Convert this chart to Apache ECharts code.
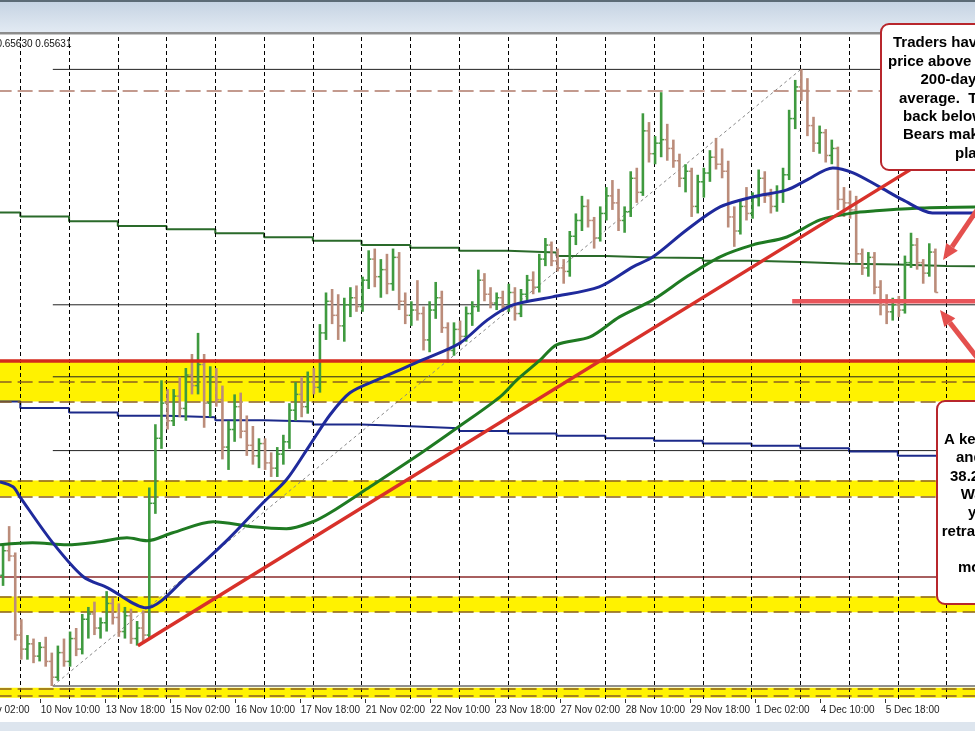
<!DOCTYPE html>
<html><head><meta charset="utf-8">
<script src="https://cdn.jsdelivr.net/npm/echarts@6/dist/echarts.min.js"></script>
<style>html,body{margin:0;padding:0;background:#fff;}#c{width:975px;height:731px;}</style>
</head><body><div id="c"></div>
<script>
// ---------- DATA ----------
// x axis: hour index of the H1 chart (0 = first visible hour)
const tickHours  = [-12,20,52,84,116,148,180,212,244,276,308,340,372,404,436];
const tickLabels = ['9 Nov 02:00','10 Nov 10:00','13 Nov 18:00','15 Nov 02:00','16 Nov 10:00','17 Nov 18:00','21 Nov 02:00','22 Nov 10:00','23 Nov 18:00','27 Nov 02:00','28 Nov 10:00','29 Nov 18:00','1 Dec 02:00','4 Dec 10:00','5 Dec 18:00'];
const daySeparators = [10,34,58,82,106,130,154,178,202,226,250,274,298,322,346,370,394,418,442,466];
const hoursPerBar = 3;
// OHLC price bars [open, high, low, close]
const bars = [
[0.6402,0.6419,0.6396,0.6416],[0.6416,0.6430,0.6410,0.6413],[0.6413,0.6415,0.6365,0.6368],[0.6368,0.6377,0.6354,0.6360],
[0.6360,0.6368,0.6354,0.6363],[0.6363,0.6366,0.6352,0.6356],[0.6356,0.6364,0.6353,0.6361],[0.6361,0.6367,0.6350,0.6353],
[0.6353,0.6358,0.6339,0.6344],[0.6344,0.6362,0.6342,0.6358],[0.6358,0.6366,0.6350,0.6353],[0.6353,0.6370,0.6350,0.6366],
[0.6366,0.6372,0.6356,0.6360],[0.6360,0.6380,0.6357,0.6377],[0.6377,0.6384,0.6366,0.6380],[0.6380,0.6387,0.6368,0.6372],
[0.6372,0.6378,0.6366,0.6375],[0.6375,0.6393,0.6370,0.6386],[0.6386,0.6389,0.6374,0.6378],[0.6378,0.6386,0.6367,0.6370],
[0.6370,0.6384,0.6366,0.6379],[0.6379,0.6383,0.6363,0.6366],[0.6366,0.6376,0.6362,0.6372],[0.6372,0.6382,0.6364,0.6368],
[0.6368,0.6452,0.6366,0.6443],[0.6443,0.6488,0.6437,0.6480],[0.6480,0.6513,0.6474,0.6500],[0.6500,0.6508,0.6485,0.6490],
[0.6490,0.6508,0.6487,0.6504],[0.6504,0.6515,0.6492,0.6497],[0.6497,0.6520,0.6490,0.6516],[0.6516,0.6528,0.6505,0.6510],
[0.6510,0.6540,0.6505,0.6522],[0.6522,0.6528,0.6486,0.6500],[0.6500,0.6521,0.6492,0.6515],[0.6515,0.6520,0.6498,0.6502],
[0.6502,0.6510,0.6468,0.6475],[0.6475,0.6490,0.6462,0.6485],[0.6485,0.6505,0.6478,0.6498],[0.6498,0.6506,0.6480,0.6484],
[0.6484,0.6493,0.6470,0.6476],[0.6476,0.6487,0.6465,0.6470],[0.6470,0.6480,0.6463,0.6477],[0.6477,0.6480,0.6462,0.6466],
[0.6466,0.6472,0.6458,0.6463],[0.6463,0.6475,0.6458,0.6471],[0.6471,0.6482,0.6465,0.6478],[0.6478,0.6500,0.6474,0.6496],
[0.6496,0.6512,0.6490,0.6505],[0.6505,0.6515,0.6492,0.6498],[0.6498,0.6518,0.6494,0.6512],[0.6512,0.6520,0.6505,0.6509],
[0.6509,0.6545,0.6506,0.6540],[0.6540,0.6563,0.6536,0.6558],[0.6558,0.6565,0.6545,0.6550],[0.6550,0.6562,0.6536,0.6544],
[0.6544,0.6560,0.6535,0.6556],[0.6556,0.6566,0.6549,0.6560],[0.6560,0.6567,0.6552,0.6555],[0.6555,0.6572,0.6552,0.6570],
[0.6570,0.6587,0.6565,0.6582],[0.6582,0.6588,0.6566,0.6572],[0.6572,0.6582,0.6560,0.6576],[0.6576,0.6585,0.6562,0.6568],
[0.6568,0.6588,0.6564,0.6583],[0.6583,0.6586,0.6553,0.6558],[0.6558,0.6563,0.6545,0.6550],[0.6550,0.6558,0.6544,0.6553],
[0.6553,0.6570,0.6547,0.6551],[0.6551,0.6555,0.6530,0.6536],[0.6536,0.6558,0.6529,0.6553],[0.6553,0.6569,0.6548,0.6560],
[0.6560,0.6564,0.6540,0.6543],[0.6543,0.6546,0.6523,0.6530],[0.6530,0.6546,0.6527,0.6542],[0.6542,0.6547,0.6533,0.6538],
[0.6538,0.6555,0.6535,0.6551],[0.6551,0.6558,0.6544,0.6555],[0.6555,0.6576,0.6552,0.6570],[0.6570,0.6574,0.6558,0.6562],
[0.6562,0.6566,0.6554,0.6557],[0.6557,0.6563,0.6553,0.6560],[0.6560,0.6564,0.6552,0.6555],[0.6555,0.6568,0.6552,0.6563],
[0.6563,0.6566,0.6547,0.6551],[0.6551,0.6565,0.6549,0.6562],[0.6562,0.6573,0.6558,0.6570],[0.6570,0.6575,0.6562,0.6566],
[0.6566,0.6585,0.6563,0.6582],[0.6582,0.6594,0.6578,0.6590],[0.6590,0.6592,0.6578,0.6581],[0.6581,0.6588,0.6575,0.6577],
[0.6577,0.6582,0.6568,0.6575],[0.6575,0.6598,0.6572,0.6595],[0.6595,0.6608,0.6590,0.6604],[0.6604,0.6618,0.6598,0.6612],
[0.6612,0.6616,0.6600,0.6604],[0.6604,0.6606,0.6588,0.6594],[0.6594,0.6612,0.6592,0.6608],[0.6608,0.6623,0.6604,0.6618],
[0.6618,0.6627,0.6610,0.6614],[0.6614,0.6622,0.6598,0.6604],[0.6604,0.6612,0.6597,0.6609],[0.6609,0.6632,0.6606,0.6628],
[0.6628,0.6634,0.6614,0.6620],[0.6620,0.6665,0.6618,0.6655],[0.6655,0.6660,0.6637,0.6642],[0.6642,0.6652,0.6636,0.6648],
[0.6648,0.6677,0.6640,0.6650],[0.6650,0.6659,0.6638,0.6645],[0.6645,0.6650,0.6634,0.6638],[0.6638,0.6642,0.6623,0.6628],
[0.6628,0.6636,0.6620,0.6632],[0.6632,0.6634,0.6606,0.6612],[0.6612,0.6630,0.6608,0.6626],[0.6626,0.6634,0.6617,0.6631],
[0.6631,0.6644,0.6626,0.6640],[0.6640,0.6651,0.6633,0.6636],[0.6636,0.6645,0.6628,0.6632],[0.6632,0.6638,0.6600,0.6606],
[0.6606,0.6612,0.6589,0.6598],[0.6598,0.6616,0.6596,0.6612],[0.6612,0.6623,0.6604,0.6608],[0.6608,0.6620,0.6605,0.6617],
[0.6617,0.6633,0.6612,0.6628],[0.6628,0.6632,0.6614,0.6618],[0.6618,0.6622,0.6608,0.6612],[0.6612,0.6624,0.6609,0.6620],
[0.6620,0.6634,0.6614,0.6630],[0.6630,0.6667,0.6627,0.6662],[0.6662,0.6684,0.6656,0.6680],[0.6680,0.6690,0.6672,0.6678],
[0.6678,0.6685,0.6652,0.6658],[0.6658,0.6663,0.6643,0.6648],[0.6648,0.6658,0.6642,0.6654],[0.6654,0.6656,0.6637,0.6641],
[0.6641,0.6650,0.6636,0.6645],[0.6645,0.6646,0.6610,0.6616],[0.6616,0.6623,0.6606,0.6614],[0.6614,0.6621,0.6605,0.6610],
[0.6610,0.6618,0.6580,0.6585],[0.6585,0.6588,0.6573,0.6577],[0.6577,0.6586,0.6572,0.6583],[0.6583,0.6586,0.6562,0.6566],
[0.6566,0.6570,0.6550,0.6556],[0.6556,0.6562,0.6545,0.6552],[0.6552,0.6560,0.6547,0.6556],[0.6556,0.6561,0.6549,0.6553],
[0.6553,0.6584,0.6551,0.6580],[0.6580,0.6597,0.6577,0.6590],[0.6590,0.6594,0.6576,0.6580],[0.6580,0.6582,0.6568,0.6574],
[0.6574,0.6591,0.6572,0.6586],[0.6586,0.6588,0.6563,0.6563]
];
// hourly moving averages [hour, price]
const ma100h = [[0,0.64552],[6.4,0.64524],[9.8,0.64467],[26,0.64205],[41,0.64012],[53,0.63949],[72,0.63835],[92,0.64012],[112,0.64222],[129.5,0.64433],[141,0.64564],[152.6,0.64763],[162.5,0.64934],[172.3,0.65059],[185.6,0.65133],[208,0.65246],[226.5,0.65343],[240,0.65474],[252.6,0.65559],[272,0.65605],[295,0.65662],[311.6,0.65776],[321.5,0.65833],[338,0.65986],[354.5,0.66117],[370.7,0.66174],[387.4,0.66214],[397.3,0.66271],[410,0.66339],[420,0.66311],[433,0.66231],[444.5,0.66157],[459,0.66083],[480,0.66083]];
const ma200h = [[0,0.64194],[16,0.64205],[33,0.64194],[49,0.64211],[62.5,0.64234],[72.4,0.64217],[85,0.64262],[105,0.64325],[124.5,0.64296],[141,0.64285],[154,0.64325],[162.5,0.64376],[182.2,0.64524],[206.8,0.64712],[226.5,0.64871],[246.2,0.65036],[254.5,0.65133],[266,0.65246],[274,0.65332],[290.5,0.65377],[305,0.65491],[321.5,0.65588],[338,0.65719],[354.5,0.65833],[370.7,0.65901],[387.4,0.65946],[403.7,0.66043],[420,0.66083],[430,0.66094],[453,0.66111],[480,0.66117]];
// daily moving averages (one value per trading day, starting at each day separator)
const dayStarts = [0,10,34,58,82,106,130,154,178,202,226,250,274,298,322,346,370,394,418,442,466];
const ma200d = [0.66085,0.66062,0.66036,0.66009,0.65990,0.65967,0.65945,0.65925,0.65901,0.65884,0.65868,0.65857,0.65838,0.65829,0.65826,0.65810,0.65804,0.65793,0.65790,0.65781,0.65779];
const ma100d = [0.65009,0.64972,0.64947,0.64928,0.64920,0.64903,0.64895,0.64878,0.64868,0.64857,0.64842,0.64828,0.64814,0.64800,0.64786,0.64771,0.64757,0.64744,0.64725,0.64700,0.64700];
// Fibonacci retracement of the 10 Nov low -> 4 Dec high
const fibStartHour = 26, fibEndHour = 394.3;
const fibLow = 0.6339, fibHigh = 0.6690;
const fibLevels = [0.6690, 0.6556, 0.6515, 0.6473, 0.6339];
// trend line
const trendLine = [[67.9,0.63619],[448,0.66328]];
// yellow support / resistance zones [top, bottom]
const yellowZones = [[0.6524,0.6501],[0.6456,0.6447],[0.6390,0.6381],[0.6338,0.63323]];
const zoneDashed = [0.6512,0.6501,0.6456,0.6447,0.6390,0.6381,0.63374,0.63335];
const prevHighDashed = 0.6678;
const zoneTopRed = 0.6524;
const brownLevel = 0.6401;
const keyLevel = 0.6558, keyLevelStartHour = 390;
const priceMin = 0.63316, priceMax = 0.67090;

// ---------- CHART ----------
const UP = '#3f9a3f', DOWN = '#bb8c7a';
const hline = (p, h0, h1, color, width, type, z) => ({
  type:'line', data:[[h0,p],[h1,p]], symbol:'none', silent:true, z:z,
  lineStyle:{color:color, width:width, type:type||'solid'}
});
const series = [];
series.push({type:'line', data:[], silent:true, z:1,
  markArea:{silent:true, precision:6, itemStyle:{color:'#fff200'}, data: yellowZones.map(b=>[{yAxis:b[0]},{yAxis:b[1]}])}});
series.push({type:'line', data:[], silent:true, z:2,
  markLine:{silent:true, precision:6, symbol:['none','none'], label:{show:false},
    lineStyle:{color:'#000', width:1, type:[4,3]}, data: daySeparators.map(h=>({xAxis:h}))}});
series.push({type:'line', data:[], silent:true, z:3,
  markLine:{silent:true, precision:6, symbol:['none','none'], label:{show:false},
    lineStyle:{color:'#8a6020', width:1.5, type:[15,6]}, data: zoneDashed.map(p=>({yAxis:p}))}});
series.push({type:'line', data:[], silent:true, z:3,
  markLine:{silent:true, precision:6, symbol:['none','none'], label:{show:false},
    lineStyle:{color:'#b07a6a', width:1.5, type:[15,6]}, data:[{yAxis:prevHighDashed}]}});
series.push(hline(brownLevel, -12, 480, '#8b2a2a', 1.5, 'solid', 3));
series.push(hline(zoneTopRed, -12, 480, '#d42a1c', 3.5, 'solid', 6));
fibLevels.forEach(p => series.push(hline(p, fibStartHour, 480, '#222', 1, 'solid', 3)));
series.push({type:'line', data:[[fibStartHour,fibLow],[fibEndHour,fibHigh]], symbol:'none', silent:true, z:3,
  lineStyle:{color:'#888', width:1, type:[3,3]}});
series.push({type:'line', step:'end', data: dayStarts.map((h,i)=>[h,ma200d[i]]).concat([[480,ma200d[ma200d.length-1]]]),
  symbol:'none', silent:true, z:4, lineStyle:{color:'#2a6a2a', width:2}});
series.push({type:'line', step:'end', data: dayStarts.map((h,i)=>[h,ma100d[i]]).concat([[480,ma100d[ma100d.length-1]]]),
  symbol:'none', silent:true, z:4, lineStyle:{color:'#1c2a8a', width:2}});
series.push({type:'custom', z:5, silent:true, clip:true,
  data: bars.map((b,i)=>[i*hoursPerBar+hoursPerBar/2, b[0], b[1], b[2], b[3]]),
  encode:{x:0, y:[1,2,3,4]},
  renderItem:function(params, api){
    const h=api.value(0), o=api.value(1), hi=api.value(2), lo=api.value(3), c=api.value(4);
    const pH=api.coord([h,hi]), pL=api.coord([h,lo]), pO=api.coord([h,o]), pC=api.coord([h,c]);
    const col = c>=o ? UP : DOWN;
    return {type:'group', children:[
      {type:'line', shape:{x1:pH[0],y1:pH[1],x2:pL[0],y2:pL[1]}, style:{stroke:col, lineWidth:2.6}},
      {type:'line', shape:{x1:pO[0]-2.8,y1:pO[1],x2:pO[0],y2:pO[1]}, style:{stroke:col, lineWidth:1.5}},
      {type:'line', shape:{x1:pC[0],y1:pC[1],x2:pC[0]+2.8,y2:pC[1]}, style:{stroke:col, lineWidth:1.5}}
    ]};
  }});
series.push({type:'line', data:ma200h, smooth:0.3, symbol:'none', silent:true, z:6, lineStyle:{color:'#1f7a22', width:3}});
series.push({type:'line', data:ma100h, smooth:0.3, symbol:'none', silent:true, z:6, lineStyle:{color:'#1f2a9c', width:3}});
series.push({type:'line', data:trendLine, symbol:'none', silent:true, z:7, lineStyle:{color:'#d8312a', width:3.5}});
series.push(hline(keyLevel, keyLevelStartHour, 480, '#e8555a', 4.5, 'solid', 7));

const boxFont = 'bold 15px "Liberation Sans", Arial, sans-serif';
const txt = (s,x,y) => ({type:'text', x:x, y:y, z:102, silent:true,
  style:{text:s, font:boxFont, fill:'#000', align:'left', verticalAlign:'middle'}});
const arrowCol = '#e4504e';

const option = {
  animation:false,
  backgroundColor:'#ffffff',
  grid:{left:-24.375, right:0, top:36, bottom:32, containLabel:false, outerBoundsMode:'none'},
  xAxis:{type:'value', min:-12, max:480,
    axisLine:{show:false}, splitLine:{show:false},
    axisTick:{show:true, customValues:tickHours, length:4, lineStyle:{color:'#333'}},
    axisLabel:{customValues:tickHours, formatter:v=>tickLabels[tickHours.indexOf(v)] || '',
      align:'left', margin:6, fontSize:10, color:'#222', fontFamily:'"Liberation Sans", Arial, sans-serif'}},
  yAxis:{type:'value', min:priceMin, max:priceMax, show:false, splitLine:{show:false}},
  series: series,
  graphic:[
    {type:'rect', shape:{x:0,y:0,width:975,height:32}, z:90, silent:true,
      style:{fill:new echarts.graphic.LinearGradient(0,0,0,1,[{offset:0,color:'#c4d2e2'},{offset:1,color:'#e2eaf3'}])}},
    {type:'rect', shape:{x:0,y:0,width:975,height:2}, z:91, silent:true, style:{fill:'#5c6b76'}},
    {type:'rect', shape:{x:0,y:32,width:975,height:2}, z:91, silent:true, style:{fill:'#8c8c8c'}},
    {type:'rect', shape:{x:0,y:34,width:975,height:1}, z:91, silent:true, style:{fill:'#c8c8c8'}},
    {type:'rect', shape:{x:0,y:722,width:975,height:9}, z:91, silent:true, style:{fill:'#dde5ee'}},
    {type:'text', x:-3.6, y:44, z:92, silent:true,
      style:{text:'0.65630 0.65631', font:'10px "Liberation Sans", Arial, sans-serif', fill:'#111', align:'left', verticalAlign:'middle'}},
    // annotation box 1
    {type:'rect', shape:{x:881,y:24,width:260,height:146,r:8}, z:100, silent:true,
      style:{fill:'#ffffff', stroke:'#b8262c', lineWidth:2}},
    txt('Traders have pushed the',893,43), txt('price above and below the',888,62),
    txt('200-day moving',920.5,80), txt('average.  The price is',899,98.5),
    txt('back below the MA.',903,117), txt('Bears make a',903,135), txt('play here.',955,154),
    // annotation box 2
    {type:'rect', shape:{x:937,y:401,width:220,height:203,r:8}, z:100, silent:true,
      style:{fill:'#ffffff', stroke:'#b8262c', lineWidth:2}},
    txt('A key swing area',944,439.5), txt('and the',956,458), txt('38.2% retracement',950,476.5),
    txt('Watch',960.7,495), txt('yesterday',968,513), txt('retracement',941.7,531.5),
    txt('more downside',958,568),
    // arrows
    {type:'polyline', shape:{points:[[1000,176],[952,246.8]]}, z:101, silent:true, style:{stroke:arrowCol, lineWidth:5}},
    {type:'polygon', shape:{points:[[943,260],[957.8,250.7],[946.2,242.9]]}, z:101, silent:true, style:{fill:arrowCol}},
    {type:'polyline', shape:{points:[[1000,387],[949.8,322.6]]}, z:101, silent:true, style:{stroke:arrowCol, lineWidth:5}},
    {type:'polygon', shape:{points:[[940,310],[955.3,318.3],[944.3,326.9]]}, z:101, silent:true, style:{fill:arrowCol}}
  ]
};
const chart = echarts.init(document.getElementById('c'), null, {renderer:'canvas', width:975, height:731});
chart.setOption(option);
</script>
</body></html>
